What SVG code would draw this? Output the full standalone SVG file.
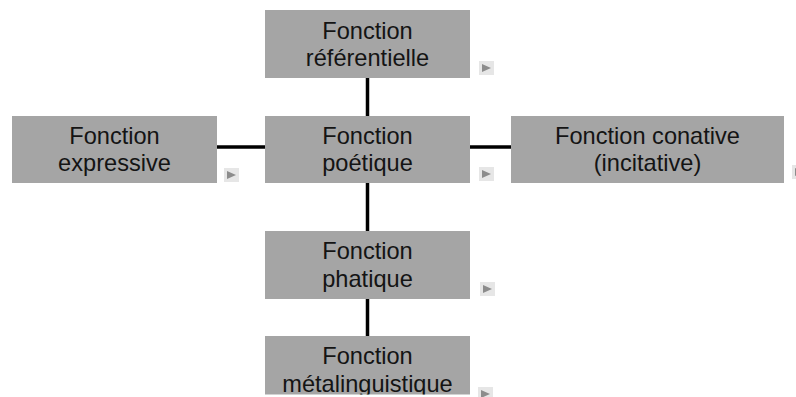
<svg xmlns="http://www.w3.org/2000/svg" width="796" height="397" viewBox="0 0 796 397">
<style>
.box{fill:#a5a5a5}
.lbl{font-family:"Liberation Sans",Arial,sans-serif;font-size:23.6px;fill:#141414;text-anchor:middle}
.con{stroke:#000;stroke-width:3.5;fill:none}
.ico-bg{fill:#e6e6e6}
.ico-tri{fill:#8c8c8c}
</style>
<defs>
<g id="ico">
<rect class="ico-bg" x="0" y="0" width="15" height="14"/>
<polygon class="ico-tri" points="3,3 12,7 3,11"/>
</g>
<clipPath id="clipBottom"><rect x="0" y="0" width="796" height="394.5"/></clipPath>
</defs>
<rect width="796" height="397" fill="#fff"/>
<g id="connectors">
<line class="con" x1="367.5" y1="78" x2="367.5" y2="116"/>
<line class="con" x1="367.5" y1="183" x2="367.5" y2="231"/>
<line class="con" x1="367.5" y1="299" x2="367.5" y2="336"/>
<line class="con" x1="217" y1="147" x2="265" y2="147"/>
<line class="con" x1="470" y1="147" x2="511" y2="147"/>
</g>
<g id="node-referentielle">
<rect class="box" x="265" y="10" width="205" height="68"/>
<text class="lbl" x="367.5" y="38.5">Fonction</text>
<text class="lbl" x="367.5" y="66">référentielle</text>
<use href="#ico" x="479" y="61"/>
</g>
<g id="node-expressive">
<rect class="box" x="12" y="116" width="205" height="67"/>
<text class="lbl" x="114.5" y="143.5">Fonction</text>
<text class="lbl" x="114.5" y="171">expressive</text>
<use href="#ico" x="224" y="168"/>
</g>
<g id="node-poetique">
<rect class="box" x="265" y="116" width="205" height="67"/>
<text class="lbl" x="367.5" y="143.5">Fonction</text>
<text class="lbl" x="367.5" y="171">poétique</text>
<use href="#ico" x="479" y="167"/>
</g>
<g id="node-conative">
<rect class="box" x="511" y="116" width="273" height="67"/>
<text class="lbl" x="647.5" y="143.5">Fonction conative</text>
<text class="lbl" x="647.5" y="171">(incitative)</text>
<use href="#ico" x="792" y="165"/>
</g>
<g id="node-phatique">
<rect class="box" x="265" y="231" width="205" height="68"/>
<text class="lbl" x="367.5" y="259">Fonction</text>
<text class="lbl" x="367.5" y="287">phatique</text>
<use href="#ico" x="480" y="282"/>
</g>
<g id="node-metalinguistique" clip-path="url(#clipBottom)">
<rect class="box" x="265" y="336" width="205" height="68"/>
<text class="lbl" x="367.5" y="364">Fonction</text>
<text class="lbl" x="367.5" y="391.5">métalinguistique</text>
</g>
<use href="#ico" x="478" y="387"/>
</svg>
